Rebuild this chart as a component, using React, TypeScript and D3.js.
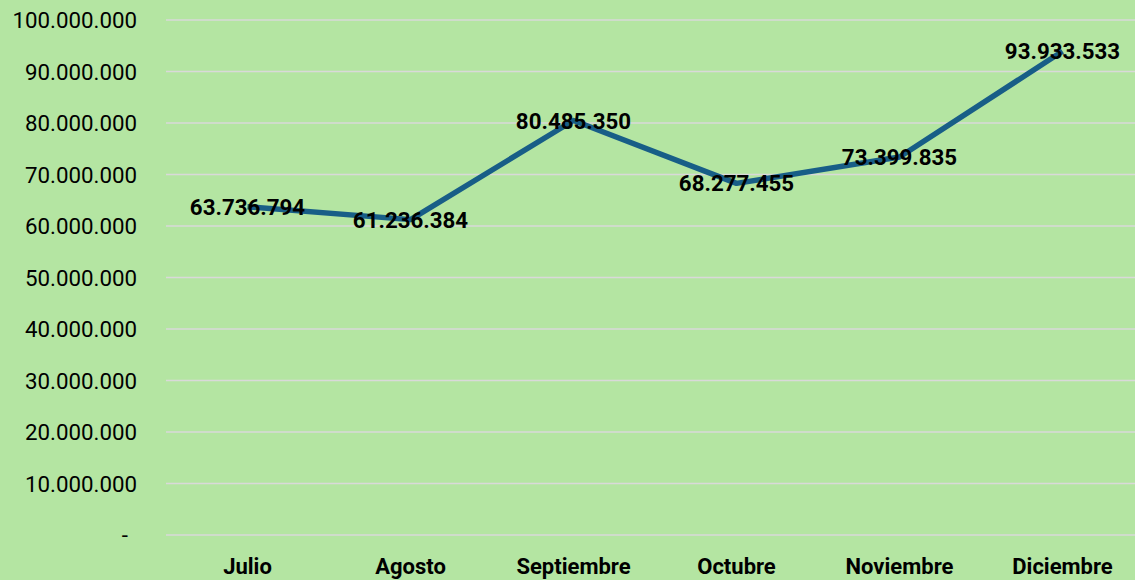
import React from 'react'
import * as d3 from 'd3'

const months = ['Julio', 'Agosto', 'Septiembre', 'Octubre', 'Noviembre', 'Diciembre']
const ventas = [63736794, 61236384, 80485350, 68277455, 73399835, 93933533]
const yTicks = [0, 10000000, 20000000, 30000000, 40000000, 50000000, 60000000, 70000000, 80000000, 90000000, 100000000]

const W = 1135
const H = 580

const fmt = (v: number) => (v === 0 ? '-' : d3.format(',')(v).replace(/,/g, '.'))

const App = () => {
    const x = d3.scaleBand<string>().domain(months).range([166, 1144])
    const y = d3.scaleLinear().domain([0, 100000000]).range([535, 20])
    const line = d3.line<number>()
        .x((d, i) => (x(months[i]) as number) + x.bandwidth() / 2)
        .y((d) => y(d))

    return (
        <svg width={W} height={H} style={{ position: 'absolute', left: 0, top: 0, background: '#b4e5a2' }}>
            <rect width={W} height={H} fill='#b4e5a2' />
            {
                yTicks.map((t) => (
                    <g key={t}>
                        <line x1={166} x2={W} y1={y(t)} y2={y(t)} stroke='#d9d9d9' strokeWidth={1.5} />
                        {/* accounting format pads the dash for zero */}
                        <text x={t === 0 ? 128 : 137} y={y(t)} dy='0.36em' textAnchor='end' fontFamily='Roboto' fontSize={22.3} fill='#000'>{fmt(t)}</text>
                    </g>
                ))
            }
            {
                months.map((m) => (
                    <text key={m} x={(x(m) as number) + x.bandwidth() / 2} y={566} dy='0.36em' textAnchor='middle'
                        fontFamily='Roboto' fontWeight='bold' fontSize={22} fill='#000'>{m}</text>
                ))
            }
            <path d={line(ventas) as string} fill='none' stroke='#185e87' strokeWidth={5.5} strokeLinejoin='round' />
            {
                ventas.map((v, i) => (
                    <text key={i} x={(x(months[i]) as number) + x.bandwidth() / 2} y={y(v)} dy='0.36em' textAnchor='middle'
                        fontFamily='Roboto' fontWeight='bold' fontSize={22.3} fill='#000'>{fmt(v)}</text>
                ))
            }
        </svg>
    )
}

export default App
